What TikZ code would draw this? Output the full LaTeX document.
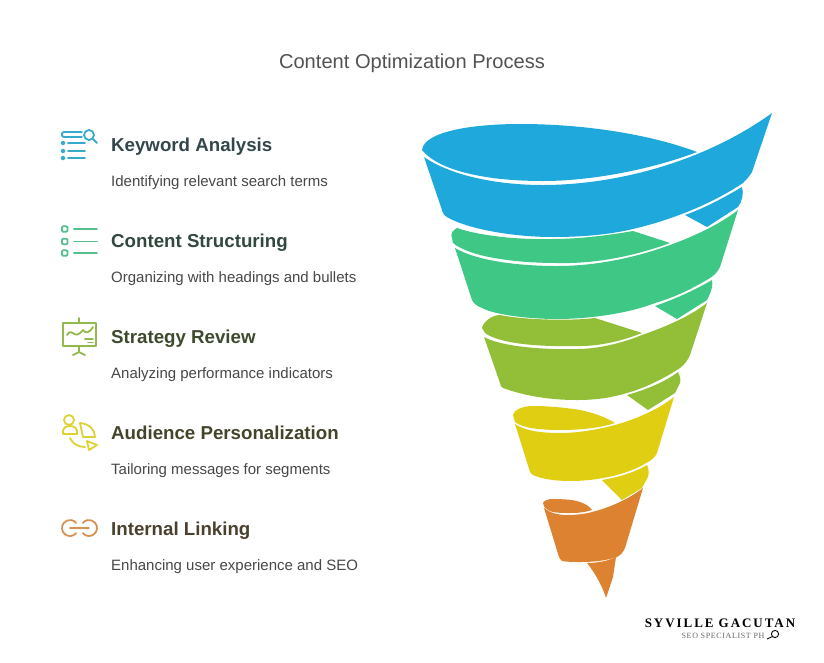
\documentclass[tikz,border=0pt]{standalone}
\usepackage{fontspec}
\setmainfont{Liberation Sans}
\newfontfamily\logofont[LetterSpace=15]{Liberation Serif}
\newfontfamily\logosub[LetterSpace=8]{Liberation Serif}

\begin{document}
\begin{tikzpicture}[x=1pt,y=-1pt,
  title node/.style={anchor=base,inner sep=0pt,text=black!68,font=\fontsize{20.1}{24}\selectfont},
  head node/.style={anchor=base west,inner sep=0pt,font=\fontsize{18.7}{24}\selectfont\bfseries},
  sub node/.style={anchor=base west,inner sep=0pt,text=black!72,font=\fontsize{15}{18}\selectfont},
  icon/.style={line width=1.8pt,line cap=round,line join=round},
  blue/.style={fill={rgb,255:red,31;green,168;blue,220}},
  green/.style={fill={rgb,255:red,62;green,199;blue,133}},
  olive/.style={fill={rgb,255:red,146;green,190;blue,56}},
  yellow/.style={fill={rgb,255:red,224;green,206;blue,18}},
  orange/.style={fill={rgb,255:red,221;green,130;blue,48}}]

  \definecolor{iconblue}{RGB}{56,170,205}
  \definecolor{icongreen}{RGB}{85,190,140}
  \definecolor{iconolive}{RGB}{146,185,75}
  \definecolor{iconyellow}{RGB}{222,210,50}
  \definecolor{iconorange}{RGB}{215,145,85}

  \useasboundingbox (0,0) rectangle (824,662);

  \node[title node] (title) at (412,68) {Content Optimization Process};

  \node[head node,text={rgb,255:red,50;green,70;blue,75}] (head1) at (111,151) {Keyword Analysis};
  \node[sub node] (sub1) at (111,186) {Identifying relevant search terms};
  \node[head node,text={rgb,255:red,50;green,72;blue,62}] (head2) at (111,247) {Content Structuring};
  \node[sub node] (sub2) at (111,282) {Organizing with headings and bullets};
  \node[head node,text={rgb,255:red,62;green,74;blue,46}] (head3) at (111,343) {Strategy Review};
  \node[sub node] (sub3) at (111,378) {Analyzing performance indicators};
  \node[head node,text={rgb,255:red,68;green,68;blue,42}] (head4) at (111,439) {Audience Personalization};
  \node[sub node] (sub4) at (111,474) {Tailoring messages for segments};
  \node[head node,text={rgb,255:red,74;green,64;blue,46}] (head5) at (111,535) {Internal Linking};
  \node[sub node] (sub5) at (111,570) {Enhancing user experience and SEO};

  % funnel
  \path[blue] (422,150) .. controls (424,132) and (470,124) .. (520,124) .. controls (590,124) and (655,136) .. (697,152)
    .. controls (650,170) and (590,181) .. (543,181) .. controls (490,181) and (440,172) .. (422,150) -- cycle;
  \path[blue] (424,157) .. controls (450,175) and (495,185) .. (543,185) .. controls (610,185) and (700,165) .. (772,113)
    -- (752,172) .. controls (749,177) and (746,180) .. (743,183) .. controls (710,205) and (670,220) .. (637,228)
    .. controls (610,235) and (580,237) .. (553,237) .. controls (510,237) and (465,228) .. (447,217)
    .. controls (445,216) and (444,215) .. (443,213) -- cycle;
  \path[blue] (685,215) .. controls (705,208) and (725,197) .. (742,187) .. controls (744,193) and (742,202) .. (738,207) -- (707,227) -- cycle;

  \path[green] (452,238) .. controls (450,234) and (453,230) .. (457,228) .. controls (480,236) and (520,240) .. (553,239)
    .. controls (580,239) and (610,235) .. (633,231) -- (670,243) .. controls (635,256) and (595,264) .. (557,263)
    .. controls (515,263) and (470,257) .. (453,243) -- cycle;
  \path[green] (455,248) .. controls (475,260) and (515,266) .. (557,266) .. controls (600,266) and (640,256) .. (670,245)
    .. controls (695,236) and (720,224) .. (738,210) -- (720,267) .. controls (718,271) and (715,275) .. (710,278)
    .. controls (690,290) and (675,297) .. (655,303) .. controls (630,313) and (590,319) .. (557,319)
    .. controls (530,319) and (495,315) .. (482,308) .. controls (477,306) and (474,304) .. (472,300) -- cycle;
  \path[green] (655,306) .. controls (675,299) and (695,290) .. (712,280) .. controls (713,285) and (712,290) .. (707,300) -- (677,319) -- cycle;

  \path[olive] (482,328) .. controls (483,322) and (492,315) .. (500,315) .. controls (525,320) and (570,321) .. (595,318)
    -- (642,333) .. controls (622,341) and (600,346) .. (580,346) .. controls (540,347) and (500,344) .. (485,333) -- cycle;
  \path[olive] (484,337) .. controls (500,346) and (540,350) .. (577,349) .. controls (600,349) and (625,342) .. (642,335)
    .. controls (668,326) and (690,316) .. (707,303) -- (690,355) .. controls (688,360) and (684,365) .. (680,368)
    .. controls (665,378) and (645,388) .. (627,393) .. controls (610,398) and (595,400) .. (577,400)
    .. controls (550,400) and (525,396) .. (503,388) .. controls (501,387) and (500,385) .. (500,383) -- cycle;
  \path[olive] (627,395) .. controls (645,390) and (665,382) .. (678,372) .. controls (680,376) and (681,380) .. (680,383) -- (675,393) -- (648,410) -- cycle;

  \path[yellow] (513,415) .. controls (514,410) and (522,406) .. (533,406) .. controls (550,406) and (568,408) .. (580,410)
    .. controls (595,413) and (607,418) .. (615,423) .. controls (600,428) and (580,430) .. (560,430)
    .. controls (540,430) and (522,428) .. (515,422) -- cycle;
  \path[yellow] (515,424) .. controls (525,431) and (542,433) .. (560,433) .. controls (580,433) and (600,429) .. (615,425)
    .. controls (640,418) and (660,408) .. (674,397) -- (657,453) .. controls (655,457) and (652,460) .. (648,462)
    .. controls (635,470) and (620,475) .. (603,478) .. controls (592,480) and (582,481) .. (570,481)
    .. controls (555,481) and (542,479) .. (533,475) .. controls (531,474) and (531,473) .. (530,472) -- cycle;
  \path[yellow] (602,480) .. controls (620,477) and (635,472) .. (647,465) .. controls (649,469) and (649,473) .. (648,477) -- (642,488) -- (622,500) -- cycle;

  \path[orange] (543,503) .. controls (544,500) and (549,499) .. (553,499) .. controls (565,499) and (575,500) .. (580,502)
    .. controls (586,504) and (590,507) .. (592,510) .. controls (583,513) and (575,513) .. (567,513)
    .. controls (557,513) and (550,512) .. (548,510) .. controls (545,508) and (543,506) .. (543,503) -- cycle;
  \path[orange] (544,508) .. controls (550,513) and (558,515) .. (567,515) .. controls (576,515) and (585,514) .. (592,512)
    .. controls (612,507) and (630,498) .. (643,488) -- (625,548) .. controls (623,552) and (621,555) .. (617,557)
    .. controls (605,561) and (592,562) .. (580,562) .. controls (574,562) and (568,562) .. (562,561)
    .. controls (561,560) and (560,559) .. (559,557) -- cycle;
  \path[orange] (587,563) .. controls (597,563) and (608,561) .. (616,557) -- (613,577) -- (606,598)
    .. controls (603,588) and (596,574) .. (587,563) -- cycle;

  % icons
  \begin{scope}[icon,iconblue]
    \draw (82,132) -- (64,132) .. controls (61,132) and (61,137) .. (64,137) -- (82,137);
    \draw (89,135) circle[radius=5];
    \draw (93,139) -- (97,143);
    \foreach \y in {143,151,158} {
      \draw (63,\y) circle[radius=1.6];
      \draw (68,\y) -- (85,\y);
    }
  \end{scope}

  \begin{scope}[icon,icongreen]
    \foreach \y in {229,241.5,253} {
      \draw[rounded corners=1pt] (62,\y-2.7) rectangle (67.5,\y+2.7);
      \draw (74,\y) -- (97,\y);
    }
  \end{scope}

  \begin{scope}[icon,iconolive]
    \draw (63,323) rectangle (96,346);
    \draw (79,318) -- (79,323);
    \draw (79,346) -- (79,352) -- (73,355);
    \draw (79,352) -- (85,355);
    \draw (67,335) .. controls (69,332) and (71,331) .. (73,333) .. controls (76,336) and (79,335) .. (83,330)
      .. controls (86,334) and (89,333) .. (93,327);
    \draw (85,339) -- (93,339);
    \draw (88,342.5) -- (93,342.5);
  \end{scope}

  \begin{scope}[icon,iconyellow]
    \draw (69,420) circle[radius=5];
    \draw (63,434) .. controls (62,427) and (67,426) .. (70,426) .. controls (74,426) and (78,428) .. (77,434) -- cycle;
    \draw (80,423) .. controls (90,424) and (95,430) .. (95,437) -- (83,437) -- cycle;
    \draw (87,441) -- (97,445) -- (89,450) -- cycle;
    \draw (70,438) .. controls (73,444) and (78,447) .. (85,447);
  \end{scope}

  \begin{scope}[icon,iconorange]
    \draw (70,528) -- (89,528);
    \draw (70,528) ++(40:8) arc[start angle=40,end angle=320,radius=8];
    \draw (89,528) ++(140:8) arc[start angle=140,end angle=-140,radius=8];
  \end{scope}

  % logo
  \node[anchor=base,inner sep=0pt,font=\fontsize{13}{15}\logofont\bfseries] (logo) at (720,627) {SYVILLE GACUTAN};
  \node[anchor=base,inner sep=0pt,text=black!60,font=\fontsize{8}{10}\logosub] (logosub) at (723,638) {SEO SPECIALIST PH};
  \draw[line width=0.9pt] (775,634) circle[radius=3.6];
  \draw[line width=0.9pt] (772.5,636.5) -- (767,639);
\end{tikzpicture}
\end{document}
